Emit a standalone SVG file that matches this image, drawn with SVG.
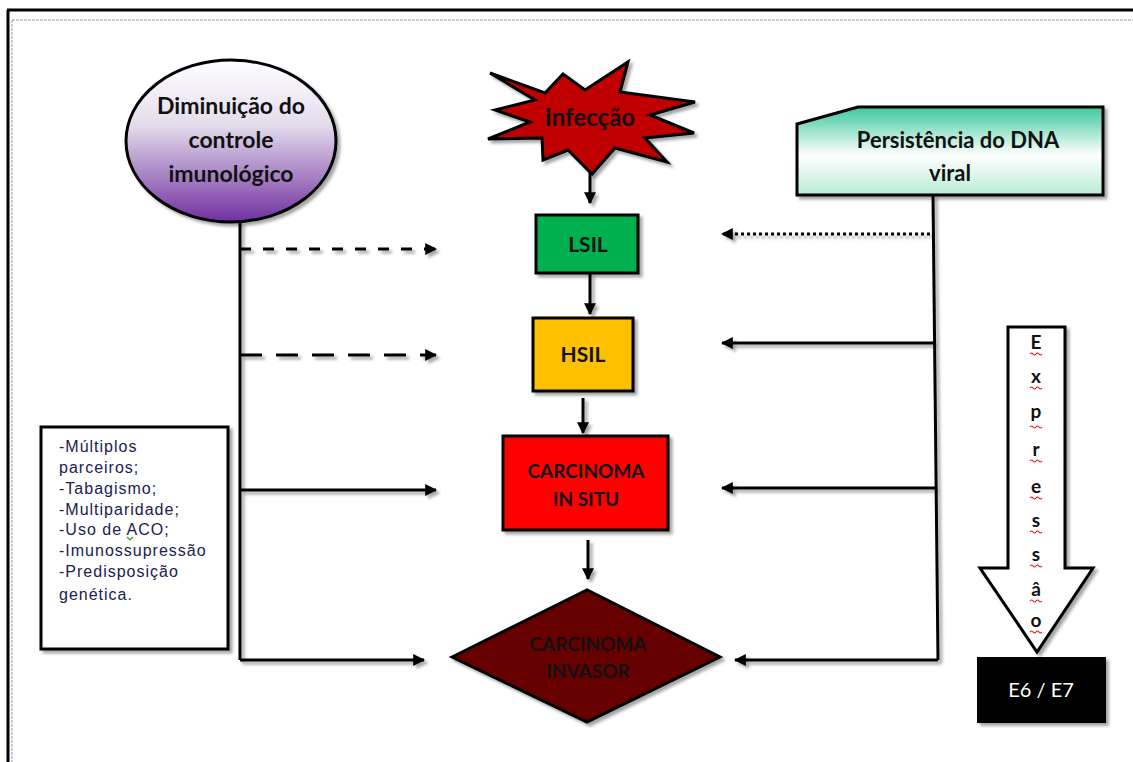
<svg xmlns="http://www.w3.org/2000/svg" width="1133" height="762" viewBox="0 0 1133 762">
<style>
.lbl{font-family:Lato,"Liberation Sans",sans-serif;font-weight:bold;fill:#111;text-anchor:middle}
.lst{font-family:"Liberation Sans",Arial,sans-serif;font-size:16px;fill:#202050;letter-spacing:1px}
.ln{stroke:#000;stroke-width:3;fill:none}
.node{stroke:#000;stroke-width:3}
.sq{stroke:#e02020;stroke-width:1.2;fill:none}
</style>
<defs>
<filter id="sh" x="-10%" y="-10%" width="130%" height="130%">
<feDropShadow dx="3" dy="3" stdDeviation="1.5" flood-color="#000" flood-opacity="0.35"/>
</filter>
<linearGradient id="gPurple" x1="0" y1="0" x2="0" y2="1">
<stop offset="0" stop-color="#ffffff"/>
<stop offset="0.4" stop-color="#e4dcec"/>
<stop offset="1" stop-color="#7030A0"/>
</linearGradient>
<linearGradient id="gGreen" x1="0" y1="0" x2="0" y2="1">
<stop offset="0" stop-color="#3cc89c"/>
<stop offset="0.55" stop-color="#ffffff"/>
<stop offset="1" stop-color="#b8ecd6"/>
</linearGradient>
<marker id="ah" viewBox="0 0 10 10" refX="9" refY="5" markerWidth="4" markerHeight="4" orient="auto">
<path d="M0,0 L10,5 L0,10 z" fill="#000"/>
</marker>
</defs>
<rect width="1133" height="762" fill="#fff"/>
<g id="frame">
<path d="M7,10 H1133 M8,10 V762" stroke="#000" stroke-width="3" fill="none"/>
<path d="M12,20 H1133 M12,20 V762" stroke="#8a9ab8" stroke-width="1" stroke-dasharray="3 1" fill="none"/>
</g>
<g id="connectors" filter="url(#sh)">
<path class="ln" d="M590,165 V203" marker-end="url(#ah)"/>
<path class="ln" d="M590,273 V314" marker-end="url(#ah)"/>
<path class="ln" d="M583,398 V433" marker-end="url(#ah)"/>
<path class="ln" d="M588,540 V579" marker-end="url(#ah)"/>
<path class="ln" d="M240,222 V660"/>
<path class="ln" d="M240,249 H436" stroke-dasharray="11 12" marker-end="url(#ah)"/>
<path class="ln" d="M240,355 H436" stroke-dasharray="22 14" marker-end="url(#ah)"/>
<path class="ln" d="M240,490 H436" marker-end="url(#ah)"/>
<path class="ln" d="M240,660 H424" marker-end="url(#ah)"/>
<path class="ln" d="M933,195 L938,660"/>
<path class="ln" d="M930,234 H722" stroke-dasharray="3 3" marker-end="url(#ah)"/>
<path class="ln" d="M935,343 H722" marker-end="url(#ah)"/>
<path class="ln" d="M937,488 H722" marker-end="url(#ah)"/>
<path class="ln" d="M938,660 H735" marker-end="url(#ah)"/>
</g>
<g id="n-imuno">
<ellipse class="node" cx="231" cy="141" rx="105" ry="81" fill="url(#gPurple)" filter="url(#sh)"/>
<text class="lbl" font-size="23" x="231" y="114">Diminuição do</text>
<text class="lbl" font-size="23" x="231" y="148">controle</text>
<text class="lbl" font-size="23" x="231" y="182">imunológico</text>
</g>
<g id="n-infeccao">
<polygon class="node" fill="#C00000" filter="url(#sh)" points="490,73 545,93 563,74 585,90 628,62 620,92 695,102 650,115 694,133 645,138 667,162 615,148 592,174 568,150 543,160 542,138 488,139 530,122 495,110 535,100"/>
<text class="lbl" font-size="24" x="590" y="126">Infecção</text>
</g>
<g id="n-dna">
<polygon class="node" fill="url(#gGreen)" filter="url(#sh)" points="797,124 858,107 1103,107 1103,195 797,195"/>
<text class="lbl" font-size="22" x="958" y="148">Persistência do DNA</text>
<text class="lbl" font-size="22" x="950" y="181">viral</text>
</g>
<g id="n-lsil">
<rect class="node" x="536" y="215" width="102" height="58" fill="#00B050" filter="url(#sh)"/>
<text class="lbl" font-size="21" x="588" y="252">LSIL</text>
</g>
<g id="n-hsil">
<rect class="node" x="533" y="318" width="100" height="73" fill="#FFC000" filter="url(#sh)"/>
<text class="lbl" font-size="21" x="583" y="362">HSIL</text>
</g>
<g id="n-insitu">
<rect class="node" x="503" y="436" width="165" height="94" fill="#FF0000" filter="url(#sh)"/>
<text class="lbl" font-size="19" x="586" y="478">CARCINOMA</text>
<text class="lbl" font-size="19" x="586" y="506">IN SITU</text>
</g>
<g id="n-invasor">
<polygon class="node" fill="#660000" filter="url(#sh)" points="452,657 587,590 720,657 587,722"/>
<text class="lbl" font-size="19" x="588" y="651">CARCINOMA</text>
<text class="lbl" font-size="19" x="588" y="678">INVASOR</text>
</g>
<g id="n-fatores">
<rect class="node" x="41" y="427" width="187" height="222" fill="#fff" filter="url(#sh)"/>
<text class="lst" x="59" y="452">-Múltiplos</text>
<text class="lst" x="59" y="473">parceiros;</text>
<text class="lst" x="59" y="494">-Tabagismo;</text>
<text class="lst" x="59" y="515">-Multiparidade;</text>
<text class="lst" x="59" y="535">-Uso de ACO;</text>
<text class="lst" x="59" y="556">-Imunossupressão</text>
<text class="lst" x="59" y="577">-Predisposição</text>
<text class="lst" x="59" y="600">genética.</text>
<path d="M127,537 l3,3 l3,-3" stroke="#30a030" stroke-width="1.2" fill="none"/>
</g>
<g id="n-expressao">
<polygon class="node" fill="#fff" filter="url(#sh)" points="1008,327 1065,327 1065,568 1093,568 1037,652 980,568 1008,568"/>
<g class="lbl" font-size="19">
<text x="1036" y="349">E</text>
<text x="1036" y="383">x</text>
<text x="1036" y="418">p</text>
<text x="1036" y="456">r</text>
<text x="1036" y="493">e</text>
<text x="1036" y="527">s</text>
<text x="1036" y="561">s</text>
<text x="1036" y="596">â</text>
<text x="1036" y="627">o</text>
</g>
<g class="sq">
<path d="M1030,354 q1.5,-2 3,0 t3,0 t3,0 t3,0"/>
<path d="M1030,388 q1.5,-2 3,0 t3,0 t3,0 t3,0"/>
<path d="M1030,427 q1.5,-2 3,0 t3,0 t3,0 t3,0"/>
<path d="M1030,461 q1.5,-2 3,0 t3,0 t3,0 t3,0"/>
<path d="M1030,498 q1.5,-2 3,0 t3,0 t3,0 t3,0"/>
<path d="M1030,532 q1.5,-2 3,0 t3,0 t3,0 t3,0"/>
<path d="M1030,566 q1.5,-2 3,0 t3,0 t3,0 t3,0"/>
<path d="M1030,601 q1.5,-2 3,0 t3,0 t3,0 t3,0"/>
<path d="M1030,632 q1.5,-2 3,0 t3,0 t3,0 t3,0"/>
</g>
</g>
<g id="n-e6e7">
<rect x="978" y="658" width="127" height="64" fill="#000" stroke="#000" stroke-width="2" filter="url(#sh)"/>
<text x="1041" y="697" font-family="Lato,'Liberation Sans',sans-serif" font-size="20" fill="#fff" text-anchor="middle">E6 / E7</text>
</g>
</svg>
